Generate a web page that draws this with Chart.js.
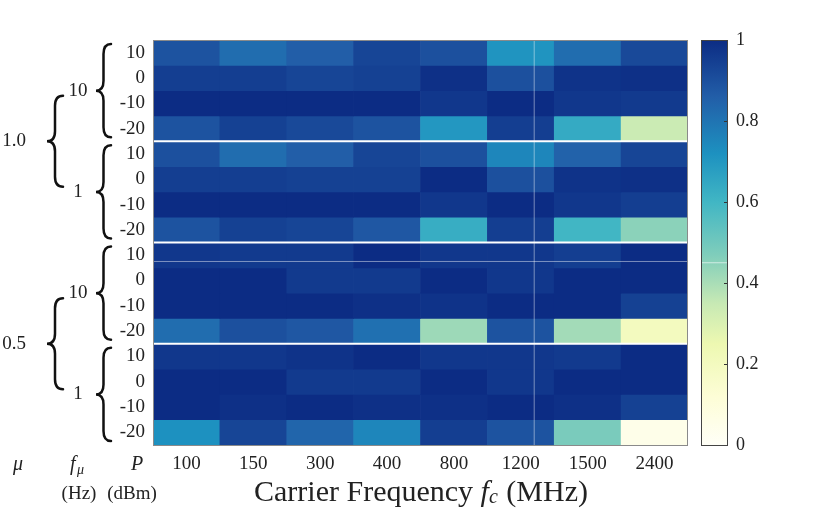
<!DOCTYPE html>
<html>
<head>
<meta charset="utf-8">
<script src="https://cdn.jsdelivr.net/npm/chart.js@4.4.1/dist/chart.umd.min.js"></script>
<style>
    html, body { margin: 0; padding: 0; background: #fff; }
    #wrap { position: relative; width: 831px; height: 515px; }
    #heat { position: absolute; left: 0; top: 0; }
    #cbar { position: absolute; left: 690px; top: 0; }
</style>
</head>
<body>
<div id="wrap">
    <canvas id="heat" width="831" height="515"></canvas>
    <canvas id="cbar" width="100" height="515"></canvas>
</div>
<script>
// 1. Dữ liệu
const freqLabels = ['100', '150', '300', '400', '800', '1200', '1500', '2400'];
const powerLabels = ['10', '0', '-10', '-20'];
const fmuLabels = ['10', '1'];
const muLabels = ['1.0', '0.5'];
const colorTicks = [0, 0.2, 0.4, 0.6, 0.8, 1];

// mu = 1.0, f_mu = 10 Hz  (hàng: P = 10, 0, -10, -20 dBm)
const mu10_f10 = [
    [0.89, 0.82, 0.86, 0.93, 0.90, 0.71, 0.82, 0.92],
    [0.95, 0.95, 0.93, 0.94, 0.99, 0.90, 0.98, 0.99],
    [1.00, 1.00, 1.00, 1.00, 0.97, 1.00, 0.97, 0.96],
    [0.89, 0.94, 0.92, 0.89, 0.70, 0.95, 0.64, 0.34]
];
// mu = 1.0, f_mu = 1 Hz
const mu10_f1 = [
    [0.90, 0.82, 0.86, 0.93, 0.90, 0.75, 0.85, 0.93],
    [0.95, 0.95, 0.94, 0.94, 1.00, 0.90, 0.98, 0.99],
    [1.00, 1.00, 1.00, 1.00, 0.97, 1.00, 0.97, 0.95],
    [0.89, 0.94, 0.93, 0.88, 0.63, 0.95, 0.60, 0.45]
];
// mu = 0.5, f_mu = 10 Hz
const mu05_f10 = [
    [0.97, 0.96, 0.96, 1.00, 0.97, 0.97, 0.95, 1.00],
    [1.00, 1.00, 0.96, 0.96, 1.00, 0.97, 1.00, 1.00],
    [1.00, 1.00, 1.00, 0.99, 0.98, 1.00, 1.00, 0.94],
    [0.82, 0.90, 0.88, 0.81, 0.42, 0.89, 0.41, 0.20]
];
// mu = 0.5, f_mu = 1 Hz
const mu05_f1 = [
    [0.97, 0.97, 0.98, 1.00, 0.97, 0.97, 0.96, 1.00],
    [1.00, 1.00, 0.96, 0.96, 1.00, 0.97, 1.00, 1.00],
    [1.00, 0.99, 1.00, 0.99, 0.99, 1.00, 0.99, 0.94],
    [0.72, 0.93, 0.84, 0.75, 0.95, 0.89, 0.48, 0.05]
];

const allRows = [...mu10_f10, ...mu10_f1, ...mu05_f10, ...mu05_f1];

// 2. Bảng màu kiểu YlGnBu (trắng -> xanh đậm)
const cmapStops = [
    [0.00, '#fffff7'], [0.12, '#fdfdd6'], [0.25, '#edf8b1'], [0.35, '#c7e9b4'],
    [0.47, '#7fcdbb'], [0.60, '#41b6c4'], [0.72, '#1d91c0'], [0.86, '#225ea8'],
    [1.00, '#0c2c84']
];

function hexToRgb(h) {
    return [1, 3, 5].map(i => parseInt(h.slice(i, i + 2), 16));
}

function valueToColor(v) {
    for (let i = 1; i < cmapStops.length; i++) {
        const [p1, c1] = cmapStops[i - 1];
        const [p2, c2] = cmapStops[i];
        if (v <= p2) {
            const t = (v - p1) / (p2 - p1);
            const a = hexToRgb(c1), b = hexToRgb(c2);
            const rgb = a.map((x, k) => Math.round(x + (b[k] - x) * t));
            return `rgb(${rgb.join(',')})`;
        }
    }
    return cmapStops[cmapStops.length - 1][1];
}

const TXT = '#222';
const SERIF = '"Liberation Serif", "DejaVu Serif", serif';

// Vẽ dấu ngoặc nhọn quay sang trái
function drawBrace(ctx, xTip, xEnd, yTop, yBot, yMid) {
    const xm = (xTip + xEnd) / 2;
    const r = 10;
    ctx.beginPath();
    ctx.moveTo(xEnd, yTop);
    ctx.quadraticCurveTo(xm, yTop, xm, yTop + r);
    ctx.lineTo(xm, yMid - r);
    ctx.quadraticCurveTo(xm, yMid, xTip, yMid);
    ctx.quadraticCurveTo(xm, yMid, xm, yMid + r);
    ctx.lineTo(xm, yBot - r);
    ctx.quadraticCurveTo(xm, yBot, xEnd, yBot);
    ctx.stroke();
}

// 3. Plugin: đường phân nhóm, ngoặc, nhãn bên trái, tiêu đề trục
const heatDecor = {
    id: 'heatDecor',
    afterDatasetsDraw(chart) {
        const { ctx, chartArea: ca, scales: { x, y } } = chart;
        ctx.save();

        // đường trắng phân nhóm
        ctx.strokeStyle = '#fff';
        ctx.lineWidth = 2;
        [4, 8, 12].forEach(r => {
            const py = y.getPixelForValue(r);
            ctx.beginPath();
            ctx.moveTo(ca.left, py);
            ctx.lineTo(ca.right, py);
            ctx.stroke();
        });

        // vệt sáng mờ trong ảnh gốc
        ctx.strokeStyle = 'rgba(255,255,255,0.45)';
        ctx.lineWidth = 1;
        const vx = x.getPixelForValue(5) + 0.2 * (x.getPixelForValue(6) - x.getPixelForValue(5));
        ctx.beginPath();
        ctx.moveTo(vx, ca.top);
        ctx.lineTo(vx, ca.bottom);
        ctx.stroke();
        const hy = y.getPixelForValue(8.75);
        ctx.beginPath();
        ctx.moveTo(ca.left, hy);
        ctx.lineTo(ca.right, hy);
        ctx.stroke();

        // khung
        ctx.strokeStyle = '#8a8a8a';
        ctx.lineWidth = 1;
        ctx.strokeRect(ca.left + 0.5, ca.top + 0.5, ca.right - ca.left - 1, ca.bottom - ca.top);

        // ngoặc và nhãn
        ctx.strokeStyle = '#111';
        ctx.lineWidth = 2.5;
        ctx.lineCap = 'round';
        for (let g = 0; g < 4; g++) {
            drawBrace(ctx, 96, 111, y.getPixelForValue(4 * g) + 4, y.getPixelForValue(4 * g + 4) - 4,
                y.getPixelForValue(4 * g + 2));
        }
        for (let m = 0; m < 2; m++) {
            drawBrace(ctx, 47, 63, y.getPixelForValue(8 * m + 2.2), y.getPixelForValue(8 * m + 5.8),
                y.getPixelForValue(8 * m + 4));
        }

        ctx.fillStyle = TXT;
        ctx.textAlign = 'center';
        ctx.textBaseline = 'middle';
        ctx.font = `19px ${SERIF}`;
        for (let m = 0; m < 2; m++) {
            ctx.fillText(muLabels[m], 14, y.getPixelForValue(8 * m + 4));
            fmuLabels.forEach((lab, f) => {
                ctx.fillText(lab, 78, y.getPixelForValue(8 * m + 4 * f + 2));
            });
        }

        // nhãn dưới cùng: mu, f_mu, P
        const rowY = 465;
        ctx.font = `italic 20px ${SERIF}`;
        ctx.fillText('\u03bc', 18, rowY);
        ctx.fillText('P', 137, rowY);
        ctx.textAlign = 'left';
        ctx.fillText('f', 70, rowY);
        ctx.font = `italic 14px ${SERIF}`;
        ctx.fillText('\u03bc', 77, rowY + 5);

        ctx.textAlign = 'center';
        ctx.font = `19px ${SERIF}`;
        ctx.fillText('(Hz)', 79, 494);
        ctx.fillText('(dBm)', 132, 494);

        // tiêu đề trục x: Carrier Frequency f_c (MHz)
        const parts = [
            { t: 'Carrier Frequency ', f: `30px ${SERIF}`, dy: 0 },
            { t: 'f', f: `italic 30px ${SERIF}`, dy: 0 },
            { t: 'c', f: `italic 20px ${SERIF}`, dy: 5 },
            { t: ' (MHz)', f: `30px ${SERIF}`, dy: 0 }
        ];
        let total = 0;
        parts.forEach(p => { ctx.font = p.f; p.w = ctx.measureText(p.t).width; total += p.w; });
        let cx = (ca.left + ca.right) / 2 - total / 2;
        ctx.textAlign = 'left';
        parts.forEach(p => {
            ctx.font = p.f;
            ctx.fillText(p.t, cx, 493 + p.dy);
            cx += p.w + (p.t === 'c' ? 1 : 0);
        });

        ctx.restore();
    }
};

// 4. Heatmap (mỗi hàng là một dataset xếp chồng)
new Chart(document.getElementById('heat'), {
    type: 'bar',
    data: {
        labels: freqLabels,
        datasets: allRows.map((row, r) => ({
            label: 'row' + r,
            data: row.map(() => 1),
            backgroundColor: row.map(valueToColor),
            borderWidth: 0,
            barPercentage: 1,
            categoryPercentage: 1
        }))
    },
    options: {
        responsive: false,
        animation: false,
        layout: { padding: { left: 0, top: 40, right: 143, bottom: 0 } },
        plugins: { legend: { display: false }, tooltip: { enabled: false } },
        scales: {
            x: {
                stacked: true,
                grid: { display: false, drawTicks: false },
                border: { display: false },
                ticks: { color: TXT, font: { family: SERIF, size: 19 }, padding: 8 },
                afterFit: s => { s.height = 70; }
            },
            y: {
                stacked: true,
                reverse: true,
                min: 0,
                max: 16,
                grid: { display: false, drawTicks: false },
                border: { display: false },
                afterBuildTicks: s => {
                    s.ticks = allRows.map((_, r) => ({ value: r + 0.5 }));
                },
                ticks: {
                    autoSkip: false,
                    color: TXT,
                    font: { family: SERIF, size: 19 },
                    padding: 8,
                    callback: (v, i) => powerLabels[i % 4]
                },
                afterFit: s => { s.width = 153; }
            }
        }
    },
    plugins: [heatDecor]
});

// 5. Thanh màu
const cbarDecor = {
    id: 'cbarDecor',
    afterDatasetsDraw(chart) {
        const { ctx, chartArea: ca, scales: { y } } = chart;
        ctx.save();
        ctx.strokeStyle = 'rgba(255,255,255,0.6)';
        ctx.lineWidth = 1;
        const hy = y.getPixelForValue(0.45);
        ctx.beginPath();
        ctx.moveTo(ca.left, hy);
        ctx.lineTo(ca.right, hy);
        ctx.stroke();

        ctx.strokeStyle = '#333';
        colorTicks.forEach(v => {
            const py = Math.round(y.getPixelForValue(v)) + 0.5;
            ctx.beginPath();
            ctx.moveTo(ca.right - 4, py);
            ctx.lineTo(ca.right, py);
            ctx.stroke();
        });
        ctx.strokeStyle = '#444';
        ctx.strokeRect(ca.left + 0.5, ca.top + 0.5, ca.right - ca.left - 1, ca.bottom - ca.top);
        ctx.restore();
    }
};

new Chart(document.getElementById('cbar'), {
    type: 'bar',
    data: {
        labels: ['cb'],
        datasets: [{
            data: [[colorTicks[0], colorTicks[colorTicks.length - 1]]],
            backgroundColor: (c) => {
                const ca = c.chart.chartArea;
                if (!ca) return '#fff';
                const g = c.chart.ctx.createLinearGradient(0, ca.bottom, 0, ca.top);
                cmapStops.forEach(([p, col]) => g.addColorStop(p, col));
                return g;
            },
            borderWidth: 0,
            barPercentage: 1,
            categoryPercentage: 1
        }]
    },
    options: {
        responsive: false,
        animation: false,
        layout: { padding: { left: 11, top: 40, right: 0, bottom: 70 } },
        plugins: { legend: { display: false }, tooltip: { enabled: false } },
        scales: {
            x: { display: false },
            y: {
                position: 'right',
                min: 0,
                max: 1,
                grid: { display: false, drawTicks: false },
                border: { display: false },
                afterBuildTicks: s => { s.ticks = colorTicks.map(v => ({ value: v })); },
                ticks: {
                    color: TXT,
                    font: { family: SERIF, size: 18 },
                    padding: 8,
                    callback: v => String(v)
                },
                afterFit: s => { s.width = 62; }
            }
        }
    },
    plugins: [cbarDecor]
});
</script>
</body>
</html>
